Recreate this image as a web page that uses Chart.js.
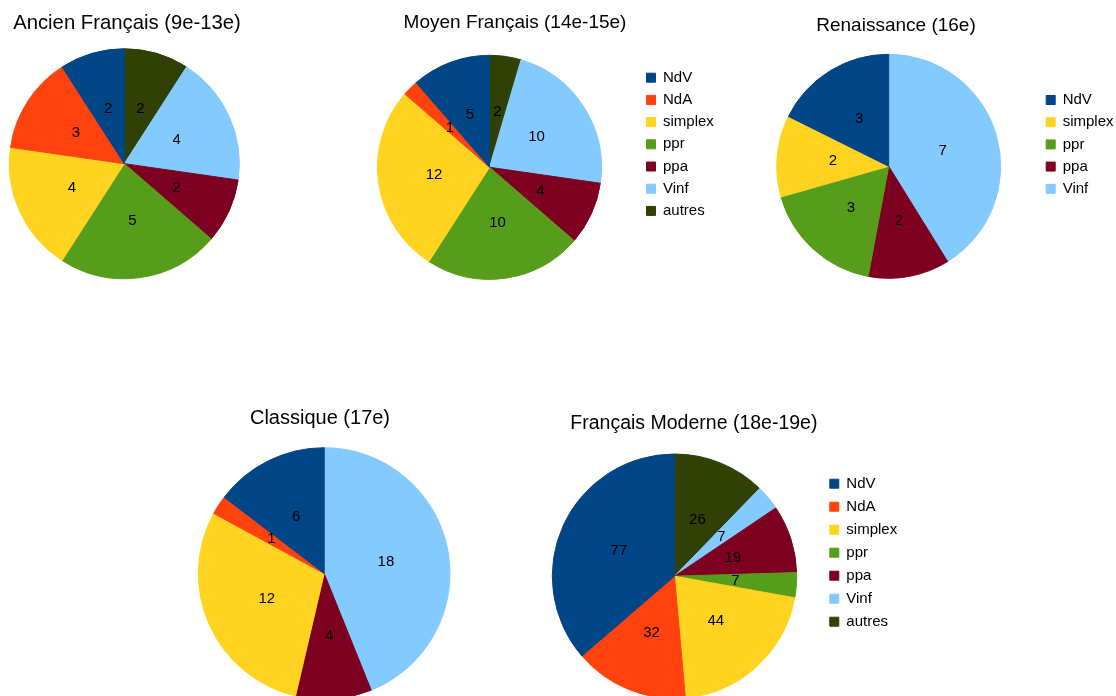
<!DOCTYPE html>
<html>
<head>
<meta charset="utf-8">
<script src="https://cdn.jsdelivr.net/npm/chart.js@4.4.0/dist/chart.umd.min.js"></script>
<style>
html, body { margin: 0; padding: 0; background: #ffffff; overflow: hidden; width: 1116px; height: 696px; }
canvas { position: absolute; }
</style>
</head>
<body>
<canvas id="c1"></canvas>
<canvas id="c2"></canvas>
<canvas id="c3"></canvas>
<canvas id="c4"></canvas>
<canvas id="c5"></canvas>
<script>
// ---------- data ----------
const ancienTitle = 'Ancien Français (9e-13e)';
const ancienCategories = ['NdV', 'NdA', 'simplex', 'ppr', 'ppa', 'Vinf', 'autres'];
const ancienValues = [2, 3, 4, 5, 2, 4, 2];

const moyenTitle = 'Moyen Français (14e-15e)';
const moyenCategories = ['NdV', 'NdA', 'simplex', 'ppr', 'ppa', 'Vinf', 'autres'];
const moyenValues = [5, 1, 12, 10, 4, 10, 2];

const renaissanceTitle = 'Renaissance (16e)';
const renaissanceCategories = ['NdV', 'simplex', 'ppr', 'ppa', 'Vinf'];
const renaissanceValues = [3, 2, 3, 2, 7];

const classiqueTitle = 'Classique (17e)';
const classiqueCategories = ['NdV', 'NdA', 'simplex', 'ppa', 'Vinf'];
const classiqueValues = [6, 1, 12, 4, 18];

const moderneTitle = 'Français Moderne (18e-19e)';
const moderneCategories = ['NdV', 'NdA', 'simplex', 'ppr', 'ppa', 'Vinf', 'autres'];
const moderneValues = [77, 32, 44, 7, 19, 7, 26];

// ---------- styles ----------
const palette = {
  NdV: '#004586', NdA: '#ff420e', simplex: '#ffd320', ppr: '#579d1c',
  ppa: '#7e0021', Vinf: '#83caff', autres: '#314004'
};
const FONT = '"Liberation Sans", Arial, sans-serif';
const LABEL_SIZE = 15;
const LEGEND_BOX = 9;
Chart.defaults.color = '#000000';
Chart.defaults.font.family = FONT;

// value labels at half radius, like the reference
const valueLabels = {
  id: 'valueLabels',
  afterDatasetsDraw(chart) {
    const ctx = chart.ctx;
    const meta = chart.getDatasetMeta(0);
    const data = chart.data.datasets[0].data;
    ctx.save();
    ctx.font = LABEL_SIZE + 'px ' + FONT;
    ctx.fillStyle = '#000000';
    ctx.textAlign = 'center';
    ctx.textBaseline = 'middle';
    meta.data.forEach((arc, i) => {
      const p = arc.tooltipPosition(true);
      ctx.fillText(String(data[i]), p.x, p.y);
    });
    ctx.restore();
  }
};

// chart title, placed where the reference puts it (not always over the pie centre)
const placedTitle = {
  id: 'placedTitle',
  afterDraw(chart, args, opts) {
    const ctx = chart.ctx;
    ctx.save();
    ctx.font = opts.size + 'px ' + FONT;
    ctx.fillStyle = '#000000';
    ctx.textAlign = 'center';
    ctx.textBaseline = 'middle';
    ctx.fillText(opts.text, opts.x, opts.y);
    ctx.restore();
  }
};

const measureCtx = document.createElement('canvas').getContext('2d');

function buildChart(id, titleText, cats, vals, s) {
  let caLeft, caRight, T, Lnat = 0, p = 8;
  if (s.legend) {
    p = s.legend.pad;
    measureCtx.font = s.legend.font + 'px ' + FONT;
    let colW = 0;
    cats.forEach(c => {
      colW = Math.max(colW, LEGEND_BOX + s.legend.font / 2 + measureCtx.measureText(c).width);
    });
    Lnat = p + colW + 10;
    caRight = s.legend.boxX + 0.5 - p;
    caLeft = 2 * s.cx - caRight;
    T = s.legend.firstY - p - s.legend.font / 2;
  } else {
    caLeft = s.cx - s.r - 5;
    caRight = s.cx + s.r + 5;
    T = s.cy - s.r - 5;
  }
  const B = 2 * s.cy - T;
  const cLeft = Math.floor(Math.min(caLeft, s.tx - 140)) - 2;
  const cRight = Math.ceil(Math.max(caRight + Lnat, s.tx + 140, s.cx + s.r + 2)) + 2;
  const cTop = Math.floor(Math.min(s.ty - 20, T));
  const cBottom = Math.ceil(Math.max(B, s.cy + s.r + 2));
  const W = cRight - cLeft, H = cBottom - cTop;

  const cv = document.getElementById(id);
  cv.width = W; cv.height = H;
  cv.style.left = cLeft + 'px'; cv.style.top = cTop + 'px';
  cv.style.width = W + 'px'; cv.style.height = H + 'px';

  // Chart.js draws clockwise; the reference runs counter-clockwise from 12 o'clock
  const labels = cats.slice().reverse();
  const data = vals.slice().reverse();
  const colors = labels.map(c => palette[c]);

  return new Chart(cv, {
    type: 'pie',
    data: {
      labels: labels,
      datasets: [{
        data: data,
        backgroundColor: colors,
        borderColor: colors,
        borderWidth: 1,
        radius: s.r,
        clip: false
      }]
    },
    options: {
      responsive: false,
      animation: false,
      events: [],
      layout: {
        padding: {
          left: caLeft - cLeft,
          right: cRight - (caRight + Lnat),
          top: T - cTop,
          bottom: cBottom - B
        }
      },
      plugins: {
        tooltip: { enabled: false },
        title: { display: false },
        placedTitle: { text: titleText, x: s.tx - cLeft, y: s.ty - cTop, size: s.titleSize },
        legend: s.legend ? {
          display: true,
          position: 'right',
          align: 'start',
          fullSize: false,
          reverse: true,
          labels: {
            boxWidth: LEGEND_BOX, boxHeight: LEGEND_BOX, padding: p, color: '#000000',
            font: { family: FONT, size: s.legend.font }
          }
        } : { display: false }
      }
    },
    plugins: [valueLabels, placedTitle]
  });
}

buildChart('c1', ancienTitle, ancienCategories, ancienValues,
  { cx: 124.3, cy: 163.7, r: 115, tx: 127, ty: 23.3, titleSize: 20.3 });
buildChart('c2', moyenTitle, moyenCategories, moyenValues,
  { cx: 489.5, cy: 167.3, r: 112, tx: 515, ty: 23, titleSize: 19,
    legend: { boxX: 646, firstY: 77.7, pad: 7.2, font: 15 } });
buildChart('c3', renaissanceTitle, renaissanceCategories, renaissanceValues,
  { cx: 888.7, cy: 166.3, r: 112, tx: 896, ty: 25.3, titleSize: 19,
    legend: { boxX: 1045.7, firstY: 100, pad: 7.2, font: 15 } });
buildChart('c4', classiqueTitle, classiqueCategories, classiqueValues,
  { cx: 324.2, cy: 573.5, r: 125.8, tx: 320, ty: 418.5, titleSize: 20 });
buildChart('c5', moderneTitle, moderneCategories, moderneValues,
  { cx: 674.5, cy: 576.2, r: 122.2, tx: 693.9, ty: 423.7, titleSize: 19.5,
    legend: { boxX: 829.3, firstY: 483.7, pad: 8, font: 15 } });
</script>
</body>
</html>
